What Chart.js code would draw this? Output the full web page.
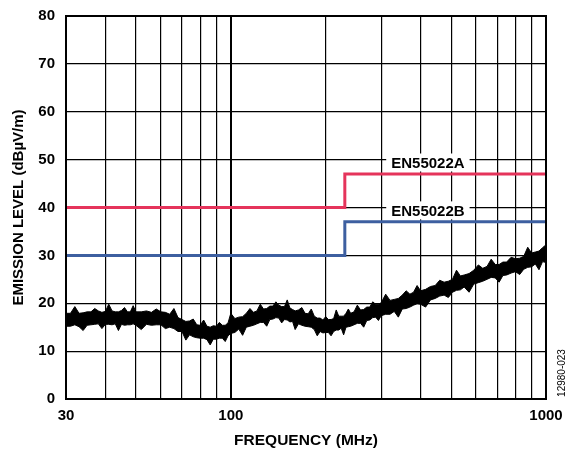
<!DOCTYPE html>
<html><head><meta charset="utf-8">
<script src="https://cdn.jsdelivr.net/npm/chart.js@4/dist/chart.umd.min.js"></script>
<style>html,body{margin:0;padding:0;background:#fff}#wrap{width:567px;height:450px}</style>
</head><body><div id="wrap"><canvas id="c" width="567" height="450"></canvas></div>
<script>
// Frequency axis (MHz) for the measured emission trace
const freqs = [30,31,32,33,34,35,36,37,38,39,40,41,42,43,44,45,46,47,48,49,
  50,52,54,56,58,60,62,64,66,68,70,72,74,76,78,80,82,84,86,88,90,92,94,96,98,
  100,103,106,109,112,115,118,121,124,127,130,133,136,139,142,145,148,151,154,157,160,
  164,168,172,176,180,184,188,192,196,200,204,208,212,216,220,224,228,232,236,240,
  246,252,258,264,270,276,282,288,294,300,
  310,320,330,340,350,360,370,380,390,400,
  415,430,445,460,475,490,505,520,535,550,
  570,590,610,630,650,670,690,710,730,750,
  775,800,825,850,875,900,925,950,975,1000];
// Upper edge of the noisy emission band (dBµV/m)
const traceUpper = [17.9,17.9,19.3,17.9,18.0,18.2,18.2,18.9,18.4,18.1,18.3,19.8,18.4,18.2,18.2,18.5,19.1,18.2,18.2,19.5,
  18.2,18.2,18.4,18.1,18.8,18.2,18.1,17.7,18.9,17.0,16.6,16.2,16.3,16.7,15.5,15.4,16.5,15.2,15.0,15.3,15.2,16.0,15.4,15.4,15.9,
  17.9,16.8,17.1,17.2,17.9,18.9,18.1,18.4,19.8,18.8,18.9,19.4,19.4,20.3,19.6,19.3,19.3,20.7,19.0,18.7,18.4,
  18.6,19.1,17.9,17.8,18.8,17.3,16.9,16.9,16.5,17.2,16.6,16.6,16.8,18.6,17.3,17.3,17.3,17.9,18.8,17.9,
  18.2,19.6,18.6,18.7,19.2,19.2,20.3,19.8,19.8,20.1,
  21.9,20.6,20.8,21.0,21.7,22.6,21.9,22.3,23.7,22.6,
  22.9,23.5,23.7,24.8,24.4,24.6,25.0,26.9,25.7,25.9,
  26.2,26.9,28.0,27.3,27.7,29.2,28.1,28.1,28.6,28.6,
  29.6,29.3,29.4,29.8,31.7,30.5,30.7,30.9,31.6,32.2];
// Lower edge of the noisy emission band (dBµV/m)
const traceLower = [15.2,15.2,15.5,15.1,14.3,15.4,15.5,15.6,15.7,14.7,15.6,15.6,15.5,15.7,14.3,15.6,15.4,15.5,15.5,15.7,
  15.4,14.5,15.6,15.4,15.5,15.5,14.7,15.0,14.7,14.1,14.1,12.3,13.4,13.0,12.8,12.7,12.7,12.4,11.3,12.5,12.5,12.7,12.7,12.0,13.2,
  13.7,13.9,14.6,13.3,15.0,15.2,15.4,15.7,16.0,16.0,15.2,16.6,16.7,17.0,16.9,15.9,16.6,16.5,16.1,16.2,14.5,
  15.7,15.4,15.2,15.1,15.0,14.5,13.2,14.1,13.8,13.9,13.9,13.2,14.1,14.4,14.4,14.8,13.4,15.0,15.1,15.2,
  15.5,15.8,15.8,15.0,16.4,16.5,17.0,17.1,16.4,17.4,
  17.7,17.7,18.3,17.1,18.8,18.9,19.2,19.6,19.9,19.8,
  19.2,20.7,21.0,21.5,21.7,21.2,22.3,22.7,22.8,23.4,
  22.3,24.0,24.3,24.6,25.0,25.4,25.3,24.4,25.8,25.9,
  26.3,26.6,26.0,27.1,27.5,27.6,28.2,27.0,28.7,28.5];
// EN55022 limit lines (step at 230 MHz)
const limitFreqs = [30,230,230,1000];
const limitA = [40,40,47,47];
const limitB = [30,30,37,37];
// Axis ticks
const xGridTicks = [30,40,50,60,70,80,90,100,200,300,400,500,600,700,800,900,1000];
const xLabelTicks = [30,100,1000];
const yTicks = [0,10,20,30,40,50,60,70,80];
const labelA = 'EN55022A', labelB = 'EN55022B';
const labelFreq = 422, labelAy = 49.4, labelBy = 39.4;
const FONT = "'Liberation Sans', Arial, sans-serif";

const pts = (xs, ys) => xs.map((x,i)=>({x, y: ys[i]}));

const annot = {
  id:'annot',
  afterDatasetsDraw(chart){
    const ctx = chart.ctx, xs = chart.scales.x, ys = chart.scales.y;
    ctx.save();
    ctx.font = 'bold 15px ' + FONT;
    ctx.textAlign = 'center'; ctx.textBaseline = 'middle';
    [[labelA,labelAy],[labelB,labelBy]].forEach(([t,v])=>{
      const px = xs.getPixelForValue(labelFreq), py = ys.getPixelForValue(v);
      const w = ctx.measureText(t).width + 10;
      ctx.fillStyle = '#fff';
      ctx.fillRect(px - w/2, py - 9, w, 18);
      ctx.fillStyle = '#000';
      ctx.fillText(t, px, py + 1);
    });
    const a = chart.chartArea;
    ctx.strokeStyle = '#000'; ctx.lineWidth = 2;
    ctx.strokeRect(a.left, a.top, a.right - a.left, a.bottom - a.top);
    ctx.translate(562, 373);
    ctx.rotate(-Math.PI/2);
    ctx.font = '10px ' + FONT;
    ctx.fillStyle = '#000';
    ctx.fillText('12980-023', 0, 0);
    ctx.restore();
  }
};

new Chart(document.getElementById('c'), {
  type:'line',
  data:{
    datasets:[
      {label:'lower', data:pts(freqs, traceLower), borderColor:'#000', borderWidth:1, pointRadius:0, fill:false, tension:0, order:3},
      {label:'upper', data:pts(freqs, traceUpper), borderColor:'#000', borderWidth:1, pointRadius:0, fill:'-1', backgroundColor:'#000', tension:0, order:3},
      {label:labelA, data:pts(limitFreqs, limitA), borderColor:'#E5345B', borderWidth:3, pointRadius:0, fill:false, tension:0, order:1},
      {label:labelB, data:pts(limitFreqs, limitB), borderColor:'#3D5FA0', borderWidth:3, pointRadius:0, fill:false, tension:0, order:2}
    ]
  },
  options:{
    responsive:false, animation:false, devicePixelRatio:1,
    layout:{padding:{left:0, right:21, top:16, bottom:0}},
    plugins:{legend:{display:false}, tooltip:{enabled:false}},
    scales:{
      x:{
        type:'logarithmic', min:30, max:1000,
        afterBuildTicks(s){ s.ticks = xGridTicks.map(v=>({value:v})); },
        afterFit(s){ s.height = 51; s.paddingLeft = 0; s.paddingRight = 0; },
        ticks:{autoSkip:false, maxRotation:0, minRotation:0, padding:8, color:'#000',
          font:{family:FONT, size:15, weight:'bold'},
          callback:(v)=> xLabelTicks.includes(v) ? String(v) : ''},
        grid:{color:'#000', lineWidth:(c)=> (c.tick && c.tick.value===100) ? 2 : 1.2, drawTicks:false},
        border:{display:false},
        title:{display:true, text:'FREQUENCY (MHz)', color:'#000', font:{family:FONT, size:15.5, weight:'bold'}, padding:{top:4, bottom:0}}
      },
      y:{
        min:0, max:80,
        afterBuildTicks(s){ s.ticks = yTicks.map(v=>({value:v})); },
        afterFit(s){ s.width = 66; s.paddingTop = 0; s.paddingBottom = 0; },
        ticks:{padding:11, color:'#000', font:{family:FONT, size:15, weight:'bold'}},
        grid:{color:'#000', lineWidth:1.2, drawTicks:false},
        border:{display:false},
        title:{display:true, text:'EMISSION LEVEL (dBµV/m)', color:'#000', font:{family:FONT, size:15, weight:'bold'}, padding:{top:10, bottom:4}}
      }
    }
  },
  plugins:[annot]
});
</script></body></html>
